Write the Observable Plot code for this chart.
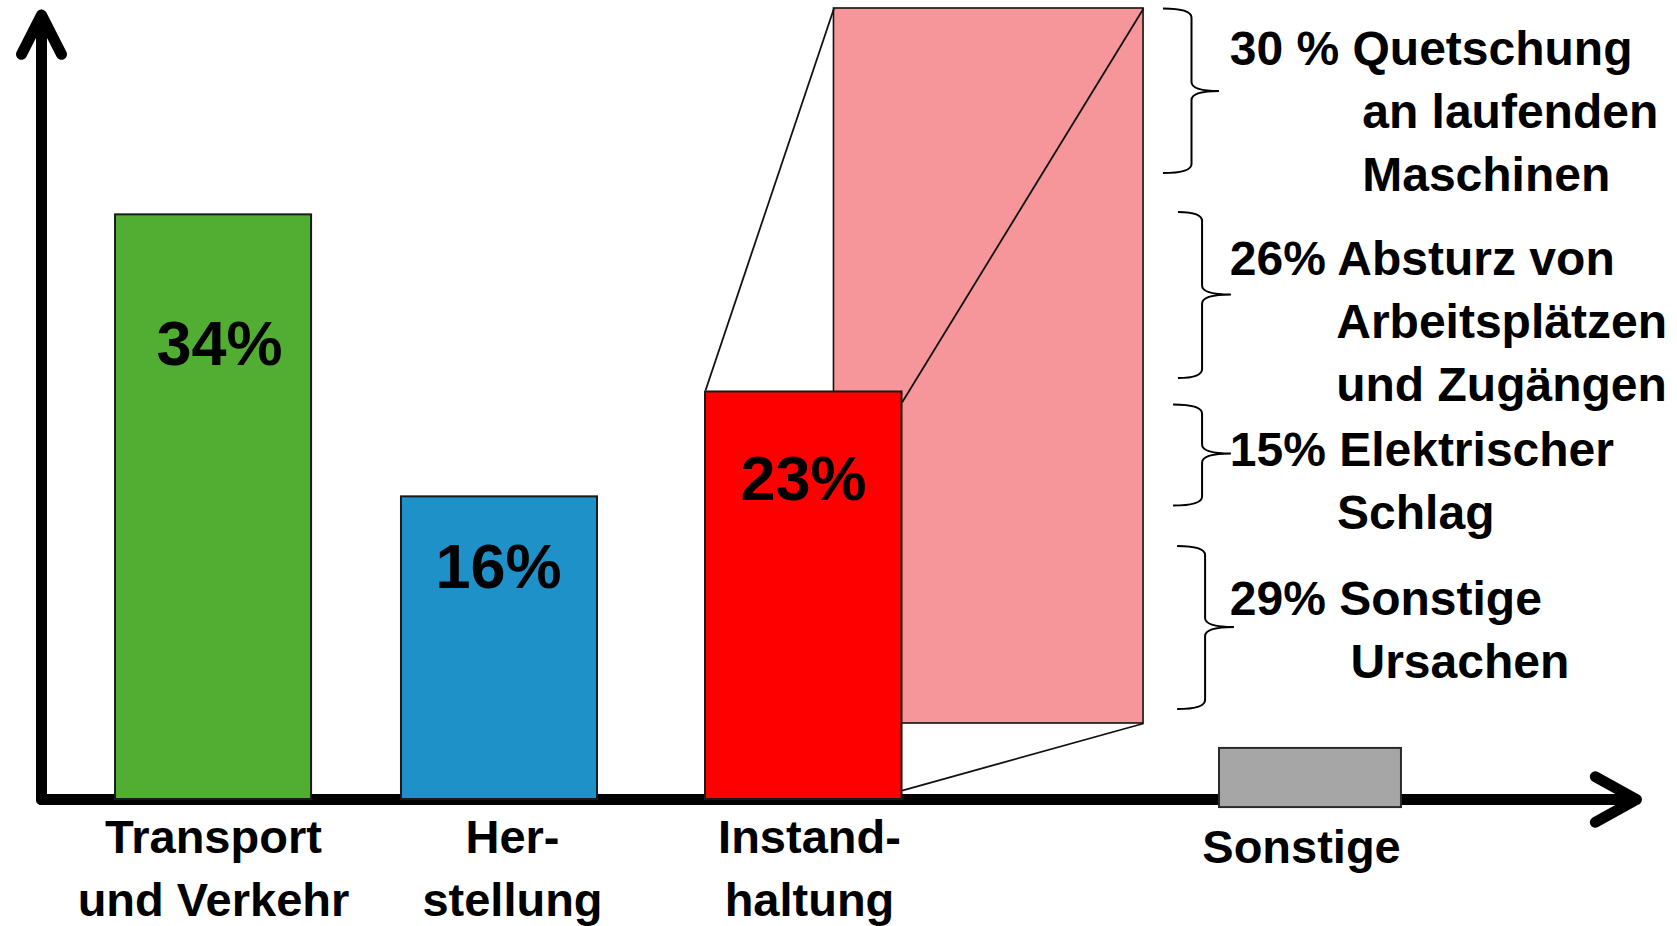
<!DOCTYPE html>
<html>
<head>
<meta charset="utf-8">
<script src="https://cdn.jsdelivr.net/npm/d3@7"></script>
<script src="https://cdn.jsdelivr.net/npm/@observablehq/plot@0.6"></script>
<style>
  html, body { margin: 0; padding: 0; background: #fff; overflow: hidden; }
</style>
</head>
<body>
<div id="chart"></div>
<script>
// ---------- values ----------
const categories = ["Transport\nund Verkehr", "Her-\nstellung", "Instand-\nhaltung", "Sonstige"];
const shareLabels = ["34%", "16%", "23%"];
const barValues = [34, 17.6, 23.7];           // bar heights as drawn (% scale)
const causeLines = [
  ["30 % Quetschung", "an laufenden", "Maschinen"],
  ["26% Absturz von", "Arbeitsplätzen", "und Zugängen"],
  ["15% Elektrischer", "Schlag"],
  ["29% Sonstige", "Ursachen"]
];

// ---------- styles ----------
const barColors = ["#52ae32", "#1e91c8", "#ff0000"];
const zoomColor = "#f7969a";
const otherColor = "#a6a6a6";
const FONT = "Liberation Sans, Arial, Helvetica, sans-serif";

// ---------- layout (x: % of width, y: % scale) ----------
const barStart = [6.86, 23.91, 42.04];
const barEnd   = [18.55, 35.60, 53.76];
const catLabelX = [12.70, 30.53, 48.24, 77.58];
const catLabelY = [-6.75, -6.75, -6.75, -3.70];
const shareLabelX = [13.06, 29.70, 47.88];
const shareLabelY = [25.25, 12.28, 17.40];
const otherBox = [72.69, 83.54, -0.47, 2.97];        // x1, x2, y1, y2
const zoomBox  = [49.70, 68.16, 4.42, 46];            // x1, x2, y1, y2
const connFrom = [[49.70, 46], [68.16, 46], [68.16, 4.42]];
const connTo   = [[42.04, 23.79], [53.76, 23.09], [53.76, 0.52]];
const axisX = 2.445, axisEndY = 45.62, axisEndX = 97.55;
const braceTop    = [45.97, 34.14, 22.94, 14.71];
const braceMid    = [41.17, 29.34, 20.09, 10.00];
const braceBottom = [36.40, 24.48, 17.07, 5.23];
const braceEnd    = [69.35, 70.24, 69.95, 70.19];
const braceSpine  = [71.05, 71.68, 71.68, 71.86];
const braceTip    = [72.69, 73.40, 73.40, 73.58];
const causeX0 = 73.30;
const causeIndentX = [81.20, 79.65, 79.70, 80.50];
const causeBaselines = [[42.71, 39.05, 35.39], [30.53, 26.84, 23.17], [19.39, 15.73], [10.73, 7.04]];

// ---------- tables ----------
const bars = barValues.map((v, i) => ({x1: barStart[i], x2: barEnd[i], y2: v, fill: barColors[i]}));
const shares = shareLabels.map((t, i) => ({text: t, x: shareLabelX[i], y: shareLabelY[i]}));
const cats = categories.map((t, i) => ({text: t, x: catLabelX[i], y: catLabelY[i]}));
const conns = connFrom.map((f, i) => ({x1: f[0], y1: f[1], x2: connTo[i][0], y2: connTo[i][1]}));
const causeRows = [];
causeLines.forEach((lines, b) => lines.forEach((t, j) => causeRows.push({
  text: t, x: j === 0 ? causeX0 : causeIndentX[b], y: causeBaselines[b][j]
})));

const braceMark = (index, scales) => {
  const {x, y} = scales;
  const g = d3.create("svg:g").attr("fill", "none").attr("stroke", "#000").attr("stroke-width", 2);
  for (let i = 0; i < braceTop.length; i++) {
    const xe = x(braceEnd[i]), xs = x(braceSpine[i]), xt = x(braceTip[i]);
    const yt = y(braceTop[i]), ym = y(braceMid[i]), yb = y(braceBottom[i]);
    const r = 9;
    const p = d3.path();
    p.moveTo(xe, yt);
    p.quadraticCurveTo(xs, yt, xs, yt + r);
    p.lineTo(xs, ym - r);
    p.quadraticCurveTo(xs, ym, xt, ym);
    p.quadraticCurveTo(xs, ym, xs, ym + r);
    p.lineTo(xs, yb - r);
    p.quadraticCurveTo(xs, yb, xe, yb);
    g.append("path").attr("d", p.toString());
  }
  return g.node();
};

const chart = Plot.plot({
  width: 1677,
  height: 926,
  marginLeft: 0,
  marginRight: 0,
  marginTop: 8,
  marginBottom: 127,
  x: {domain: [0, 100], axis: null},
  y: {domain: [0, 46], axis: null},
  style: {background: "white", fontFamily: FONT, overflow: "visible"},
  marks: [
    // zoom-out box of "Instandhaltung"
    Plot.rect([zoomBox], {x1: d => d[0], x2: d => d[1], y1: d => d[2], y2: d => d[3],
      fill: zoomColor, stroke: "#111", strokeWidth: 1.6}),
    Plot.link(conns, {x1: "x1", y1: "y1", x2: "x2", y2: "y2", stroke: "#111", strokeWidth: 1.8}),
    // axes (arrows)
    Plot.arrow([0], {x1: axisX, y1: 0, x2: axisX, y2: axisEndY, stroke: "#000", strokeWidth: 11,
      headLength: 6.0, headAngle: 54, strokeLinecap: "round", strokeLinejoin: "round"}),
    Plot.arrow([0], {x1: axisX, y1: 0, x2: axisEndX, y2: 0, stroke: "#000", strokeWidth: 11,
      headLength: 6.4, headAngle: 58, strokeLinecap: "round", strokeLinejoin: "round"}),
    // bars
    Plot.rect(bars, {x1: "x1", x2: "x2", y1: 0, y2: "y2", fill: "fill", stroke: "#1a1a1a", strokeWidth: 2}),
    Plot.rect([otherBox], {x1: d => d[0], x2: d => d[1], y1: d => d[2], y2: d => d[3],
      fill: otherColor, stroke: "#2a2a2a", strokeWidth: 2}),
    // labels
    Plot.text(shares, {x: "x", y: "y", text: "text", fontSize: 63, fontWeight: "bold", fill: "#000",
      lineAnchor: "bottom", textAnchor: "middle", fontFamily: FONT}),
    Plot.text(cats, {x: "x", y: "y", text: "text", fontSize: 47, fontWeight: "bold", fill: "#000",
      lineAnchor: "bottom", textAnchor: "middle", lineHeight: 1.34, fontFamily: FONT}),
    braceMark,
    Plot.text(causeRows, {x: "x", y: "y", text: "text", fontSize: 48, fontWeight: "bold", fill: "#000",
      lineAnchor: "bottom", textAnchor: "start", fontFamily: FONT})
  ]
});
document.getElementById("chart").appendChild(chart);
</script>
</body>
</html>
